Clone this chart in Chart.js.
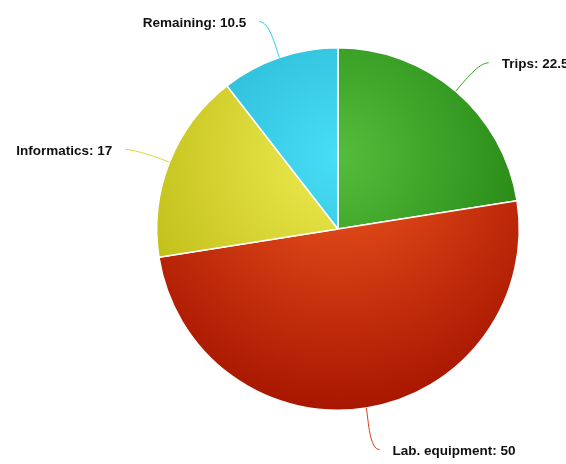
<!DOCTYPE html>
<html>
<head>
<meta charset="utf-8">
<script src="https://cdn.jsdelivr.net/npm/chart.js@4.4.0/dist/chart.umd.min.js"></script>
<style>
  html, body { margin: 0; padding: 0; background: #fff; }
  #wrap { width: 566px; height: 464px; }
</style>
</head>
<body>
<div id="wrap"><canvas id="pieChart" width="566" height="464"></canvas></div>
<script>
var categories = ['Trips', 'Lab. equipment', 'Informatics', 'Remaining'];
var values = [22.5, 50, 17, 10.5];
var innerColors = ['#55bd3c', '#ef5820', '#efec52', '#48def6'];
var outerColors = ['#187a0a', '#a81600', '#b8b60e', '#1ca6c6'];
var lineColors = ['#3a9e22', '#d0401a', '#dcd830', '#2ec4e0'];

// radial gradient over the whole pie, light spot a bit above centre
function sliceFill(context) {
    var chart = context.chart;
    var area = chart.chartArea;
    var i = context.dataIndex;
    if (!area) return innerColors[i];
    var h = area.bottom - area.top;
    var cx = (area.left + area.right) / 2;
    var cy = area.top + h * 0.3;
    var g = chart.ctx.createRadialGradient(cx, cy, 0, cx, cy, h * 0.7);
    g.addColorStop(0, innerColors[i]);
    g.addColorStop(1, outerColors[i]);
    return g;
}

// labels with curved connectors
var pieLabels = {
    id: 'pieLabels',
    afterDraw: function(chart) {
        var ctx = chart.ctx;
        var meta = chart.getDatasetMeta(0);
        ctx.save();
        ctx.font = 'bold 13.5px "Liberation Sans", Arial, sans-serif';
        ctx.textBaseline = 'middle';
        meta.data.forEach(function(arc, i) {
            var mid = (arc.startAngle + arc.endAngle) / 2;
            var r = arc.outerRadius;
            var cos = Math.cos(mid), sin = Math.sin(mid);
            var ex = arc.x + r * cos, ey = arc.y + r * sin;
            var d = 40;
            var bx = arc.x + (r + d) * cos, by = arc.y + (r + d) * sin + 2;
            var side = cos >= 0 ? 1 : -1;
            var sx = bx + side * 7;
            var tx = bx + side * 20;

            ctx.strokeStyle = lineColors[i];
            ctx.lineWidth = 1;
            ctx.beginPath();
            ctx.moveTo(sx, by);
            ctx.bezierCurveTo(sx - side * 10, by,
                arc.x + (r + 14) * cos, arc.y + (r + 14) * sin,
                ex, ey);
            ctx.stroke();

            ctx.fillStyle = '#111';
            ctx.textAlign = side > 0 ? 'left' : 'right';
            ctx.fillText(categories[i] + ': ' + values[i], tx, by + 1.5);
        });
        ctx.restore();
    }
};

var ctx = document.getElementById('pieChart').getContext('2d');
var chart = new Chart(ctx, {
    type: 'pie',
    data: {
        labels: categories,
        datasets: [{
            data: values,
            backgroundColor: sliceFill,
            borderColor: '#ffffff',
            borderWidth: 1.5
        }]
    },
    options: {
        responsive: false,
        animation: false,
        layout: {
            padding: { left: 156, right: 46, top: 47, bottom: 53 }
        },
        plugins: {
            legend: { display: false },
            tooltip: { enabled: false }
        }
    },
    plugins: [pieLabels]
});
</script>
</body>
</html>
